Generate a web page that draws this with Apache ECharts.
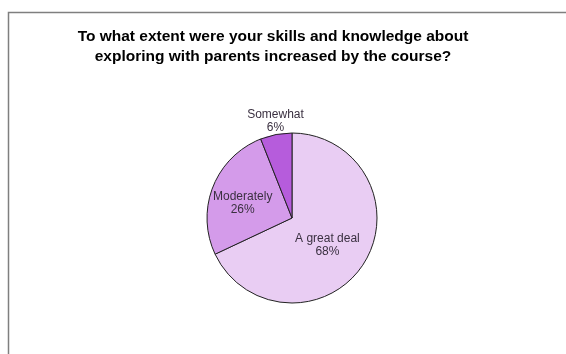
<!DOCTYPE html>
<html>
<head>
<meta charset="utf-8">
<script src="https://cdn.jsdelivr.net/npm/echarts@6/dist/echarts.min.js"></script>
<style>
  html, body { margin: 0; padding: 0; background: #ffffff; }
  #chart { width: 566px; height: 354px; }
</style>
</head>
<body>
<div id="chart"></div>
<script>
// Survey answers and their share of respondents (percent)
const categories = ['A great deal', 'Moderately', 'Somewhat'];
const shares = [68, 26, 6];
const sliceColors = ['#e9cdf3', '#d49bea', '#b65cdc'];

// Small shifts of each slice label from its default inner spot
const labelNudge = [[-3, 3], [-7, 2], [-8, -52]];

const chart = echarts.init(document.getElementById('chart'), null, { renderer: 'canvas' });

chart.setOption({
  animation: false,
  backgroundColor: '#ffffff',
  title: {
    text: 'To what extent were your skills and knowledge about\nexploring with parents increased by the course?',
    left: 273,
    top: 27,
    textAlign: 'center',
    padding: 0,
    textStyle: {
      fontFamily: 'Liberation Sans, Arial, sans-serif',
      fontSize: 15.5,
      fontWeight: 'bold',
      color: '#000000',
      lineHeight: 20
    }
  },
  graphic: [{
    type: 'rect',
    silent: true,
    shape: { x: 8.5, y: 12.5, width: 700, height: 500 },
    style: { fill: 'none', stroke: '#7f7f7f', lineWidth: 1.5 }
  }],
  series: [{
    type: 'pie',
    center: [292, 218],
    radius: 85,
    startAngle: 90,
    clockwise: true,
    data: categories.map((name, i) => ({
      name: name,
      value: shares[i],
      itemStyle: { color: sliceColors[i] }
    })),
    itemStyle: { borderColor: '#222222', borderWidth: 1 },
    label: {
      show: true,
      position: 'inside',
      formatter: '{b}\n{c}%',
      fontFamily: 'Liberation Sans, Arial, sans-serif',
      fontSize: 12,
      lineHeight: 13,
      color: '#3a3040'
    },
    labelLine: { show: false },
    labelLayout: function (params) {
      const n = labelNudge[params.dataIndex];
      return { dx: n[0], dy: n[1] };
    },
    emphasis: { disabled: true }
  }]
});
</script>
</body>
</html>
